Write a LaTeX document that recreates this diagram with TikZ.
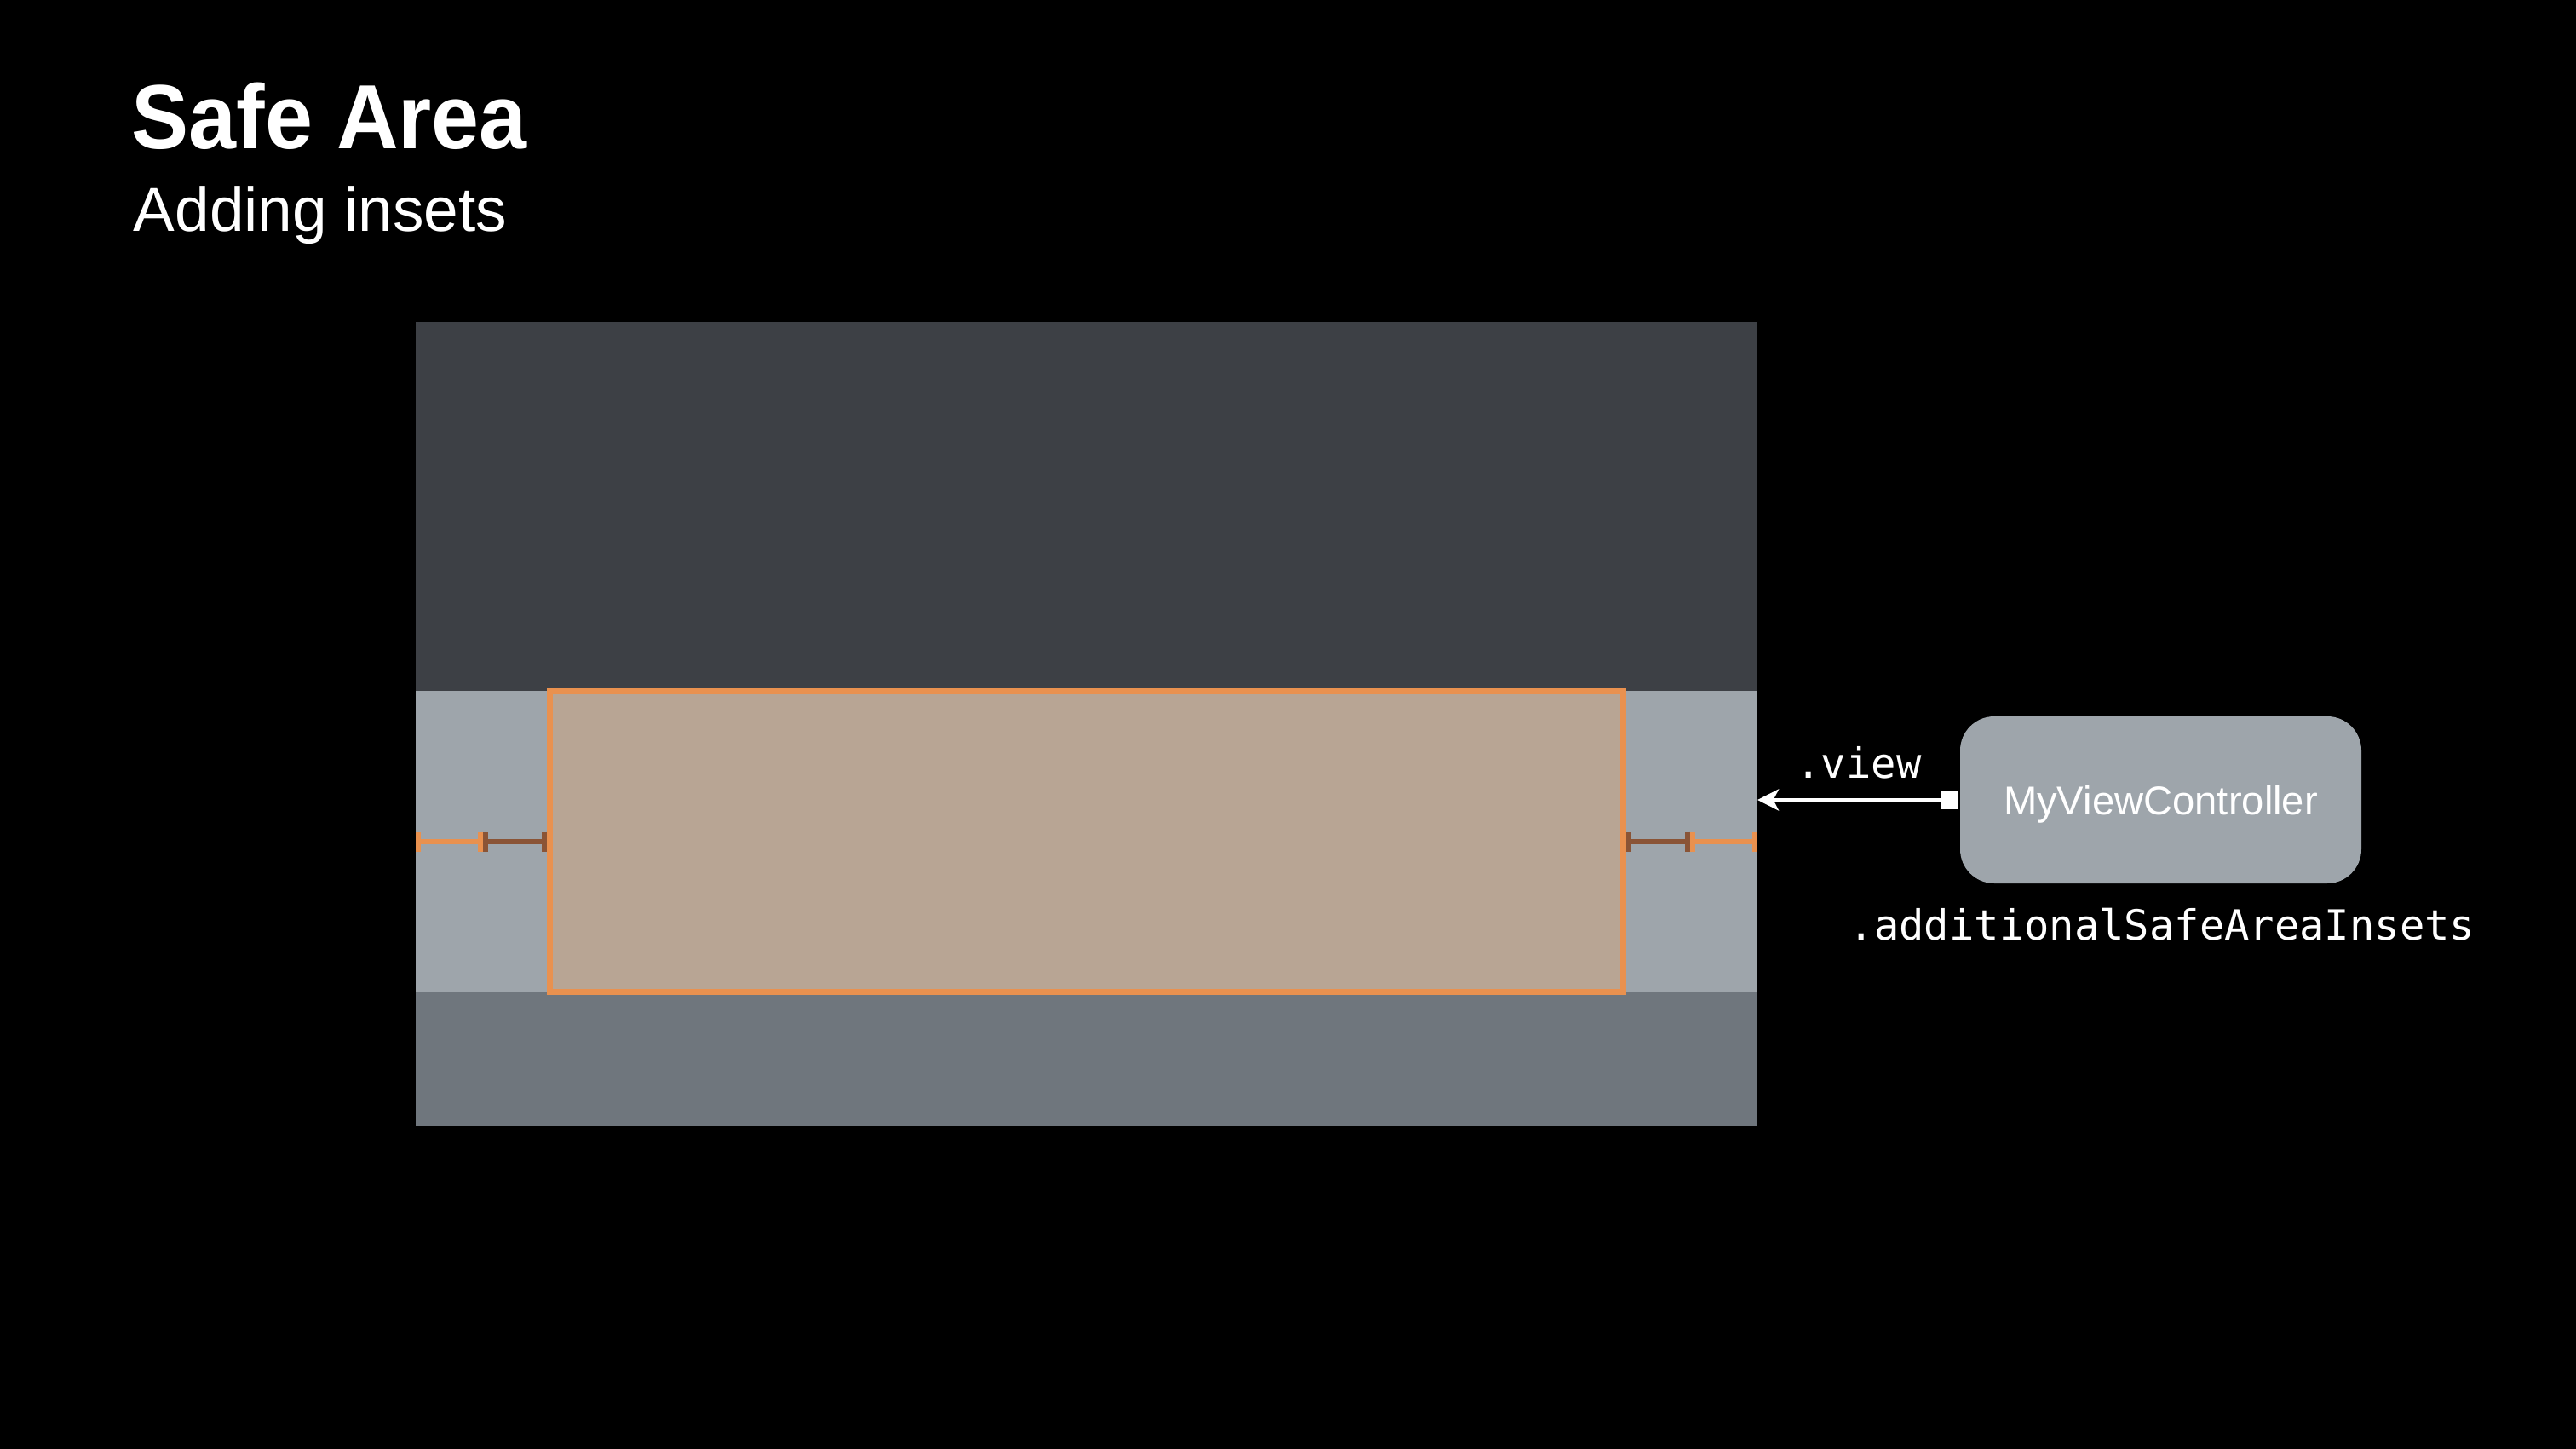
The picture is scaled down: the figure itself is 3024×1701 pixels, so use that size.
\documentclass[tikz,border=0pt]{standalone}
\usepackage{fontspec}
\setmainfont{Liberation Sans}
\newfontfamily\titlefont[FakeStretch=0.94]{Liberation Sans Bold}
\newfontfamily\codefont{DejaVu Sans Mono}
\usetikzlibrary{arrows.meta}
\definecolor{topgray}{HTML}{3D4045}
\definecolor{bandgray}{HTML}{9EA5AB}
\definecolor{botgray}{HTML}{6F767D}
\definecolor{safefill}{HTML}{B8A594}
\definecolor{safeedge}{HTML}{E9914F}
\definecolor{insetbrown}{HTML}{8A5436}
\definecolor{boxgray}{HTML}{9EA5AB}
\begin{document}
\begin{tikzpicture}[x=0.25pt,y=-0.25pt,
  insetorange/.style={draw=safeedge,line width=1.5pt,{Bar[width=5.75pt]}-{Bar[width=5.75pt]}},
  insetbar/.style={draw=insetbrown,line width=1.5pt,{Bar[width=5.75pt]}-{Bar[width=5.75pt]}},
  codelabel/.style={text=white,inner sep=0pt,font=\codefont\fontsize{12.2pt}{14pt}\selectfont},
  vcbox/.style={fill=boxgray,rounded corners=10pt,minimum width=117.75pt,minimum height=49pt,
    inner sep=0pt,text=white,text depth=0pt,font=\fontsize{11.8pt}{14pt}\selectfont},
  connector/.style={draw=white,line width=1.25pt,-{Stealth[length=6.25pt,width=6.25pt,inset=1.6pt]}}]
\useasboundingbox (0,0) rectangle (3024,1701);
\fill[black] (0,0) rectangle (3024,1701);
% titles
\node[anchor=base west,inner sep=0pt,text=white,font=\titlefont\fontsize{26.75pt}{32pt}\selectfont] (title) at (154,175) {Safe Area};
\node[anchor=base west,inner sep=0pt,text=white,font=\fontsize{18.25pt}{22pt}\selectfont] (subtitle) at (156,272) {Adding insets};
% screen
\fill[topgray] (488,378) rectangle (2063,811);
\fill[bandgray] (488,811) rectangle (2063,1165);
\fill[botgray] (488,1165) rectangle (2063,1322);
\draw[safeedge,fill=safefill,line width=1.75pt] (645.5,811.5) rectangle (1905.5,1164.5);
% inset markers
\coordinate (l0) at (488,988);
\coordinate (l1) at (567,988);
\coordinate (l2) at (642,988);
\coordinate (r0) at (1909,988);
\coordinate (r1) at (1984,988);
\coordinate (r2) at (2063,988);
\draw[insetorange] (l0) -- (l1);
\draw[insetbar] (l1) -- (l2);
\draw[insetbar] (r0) -- (r1);
\draw[insetorange] (r1) -- (r2);
% view controller
\node[vcbox] (vc) at (2536.5,939) {MyViewController};
\node[fill=white,minimum size=5.25pt,inner sep=0pt,anchor=east] (sq) at (vc.west) {};
\coordinate (viewedge) at (2063,939);
\draw[connector] (sq.west) -- (viewedge);
\node[codelabel,anchor=base] (viewlbl) at (2182,913) {.view};
\node[codelabel,anchor=base] (insetslbl) at (2538,1103) {.additionalSafeAreaInsets};
\end{tikzpicture}
\end{document}
